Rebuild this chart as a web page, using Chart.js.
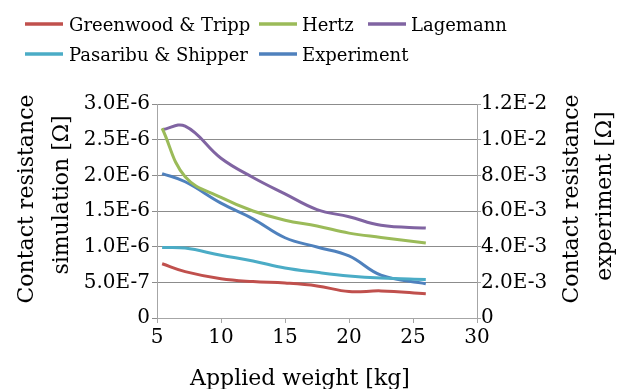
<!DOCTYPE html>
<html>
<head>
<meta charset="utf-8">
<script src="https://cdn.jsdelivr.net/npm/chart.js@4"></script>
<style>
html,body{margin:0;padding:0;background:#fff;}
#wrap{position:relative;width:619px;height:389px;}
</style>
</head>
<body>
<div id="wrap"><canvas id="c" width="619" height="389"></canvas></div>
<script>
// Applied weight [kg]
const weights = [5.4, 7.2, 10, 12.5, 15, 17.5, 20, 22.5, 26];
// simulation series [Ω] (left axis)
const greenwood = [0.76e-6, 0.65e-6, 0.55e-6, 0.51e-6, 0.49e-6, 0.45e-6, 0.37e-6, 0.38e-6, 0.34e-6];
const hertz     = [2.66e-6, 1.98e-6, 1.69e-6, 1.50e-6, 1.37e-6, 1.29e-6, 1.19e-6, 1.13e-6, 1.05e-6];
const lagemann  = [2.64e-6, 2.69e-6, 2.24e-6, 1.97e-6, 1.74e-6, 1.52e-6, 1.42e-6, 1.30e-6, 1.26e-6];
const pasaribu  = [0.99e-6, 0.98e-6, 0.88e-6, 0.80e-6, 0.70e-6, 0.64e-6, 0.59e-6, 0.56e-6, 0.54e-6];
// experiment [Ω] (right axis)
const experiment = [8.10e-3, 7.64e-3, 6.44e-3, 5.56e-3, 4.50e-3, 3.98e-3, 3.48e-3, 2.40e-3, 1.92e-3];

const seriesNames = ['Greenwood & Tripp', 'Hertz', 'Lagemann', 'Pasaribu & Shipper', 'Experiment'];
const xTitle = 'Applied weight [kg]';
const yLeftTitle = ['Contact resistance', 'simulation [Ω]'];
const yRightTitle = ['Contact resistance', 'experiment [Ω]'];

const colors = ['#C0504D', '#9BBB59', '#8064A2', '#4BACC6', '#4F81BD'];
const FONT = '"DejaVu Serif", serif';

function pts(ys) { return weights.map((w, i) => ({x: w, y: ys[i]})); }
function ds(i, ys, axis) {
  return {
    label: seriesNames[i], data: pts(ys), yAxisID: axis,
    borderColor: colors[i], backgroundColor: colors[i],
    borderWidth: 3, pointRadius: 0, tension: 0.4, fill: false
  };
}
function fmt(v) {
  if (Math.abs(v) < 1e-12) return '0';
  return Number(v).toExponential(1).toUpperCase();
}

// legend item slots: [line start x, text x, row baseline y, line y]
const legendSlots = [[25, 69, 31, 24], [259, 302, 31, 24], [368, 411, 31, 24], [25, 69, 61, 54], [259, 302, 61, 54]];

const legendAndTitles = {
  id: 'legendAndTitles',
  afterDraw(chart) {
    const ctx = chart.ctx;
    ctx.save();
    ctx.fillStyle = '#000';
    ctx.textBaseline = 'alphabetic';
    // legend
    ctx.font = '18px ' + FONT;
    chart.data.datasets.forEach((d, i) => {
      const s = legendSlots[i];
      ctx.strokeStyle = d.borderColor;
      ctx.lineWidth = 3.5;
      ctx.beginPath();
      ctx.moveTo(s[0], s[3]);
      ctx.lineTo(s[0] + 38, s[3]);
      ctx.stroke();
      ctx.textAlign = 'left';
      ctx.fillText(d.label, s[1], s[2]);
    });
    // axis titles
    ctx.font = '22px ' + FONT;
    ctx.textAlign = 'center';
    const v = (t, x, y) => { ctx.save(); ctx.translate(x, y); ctx.rotate(-Math.PI / 2); ctx.fillText(t, 0, 0); ctx.restore(); };
    v(yLeftTitle[0], 33, 199);
    v(yLeftTitle[1], 68, 195);
    v(yRightTitle[0], 578, 199);
    v(yRightTitle[1], 611, 196);
    ctx.fillText(xTitle, 300, 385);
    ctx.restore();
  }
};

new Chart(document.getElementById('c'), {
  type: 'line',
  data: {
    datasets: [
      ds(0, greenwood, 'y'),
      ds(1, hertz, 'y'),
      ds(2, lagemann, 'y'),
      ds(3, pasaribu, 'y'),
      ds(4, experiment, 'y2')
    ]
  },
  options: {
    responsive: false,
    animation: false,
    devicePixelRatio: 1,
    layout: {padding: {left: 0, right: 0, top: 104, bottom: 0}},
    plugins: {
      tooltip: {enabled: false},
      legend: {display: false}
    },
    scales: {
      x: {
        type: 'linear', min: 5, max: 30,
        ticks: {stepSize: 5, font: {family: FONT, size: 20}, color: '#000', padding: 3, maxRotation: 0},
        grid: {drawOnChartArea: false, tickLength: 5, color: '#a6a6a6'},
        border: {color: '#a6a6a6'},
        afterFit(s) { s.height = 71; }
      },
      y: {
        type: 'linear', position: 'left', min: 0, max: 3e-6,
        ticks: {stepSize: 5e-7, font: {family: FONT, size: 20}, color: '#000', padding: 2, callback: fmt},
        grid: {tickLength: 5, color: '#8c8c8c'},
        border: {color: '#a6a6a6'},
        afterFit(s) { s.width = 157; }
      },
      y2: {
        type: 'linear', position: 'right', min: 0, max: 0.012,
        ticks: {stepSize: 0.002, font: {family: FONT, size: 20}, color: '#000', padding: 0, callback: fmt},
        grid: {drawOnChartArea: false, tickLength: 4, color: '#a6a6a6'},
        border: {color: '#a6a6a6'},
        afterFit(s) { s.width = 142; }
      }
    }
  },
  plugins: [legendAndTitles]
});
</script>
</body>
</html>
